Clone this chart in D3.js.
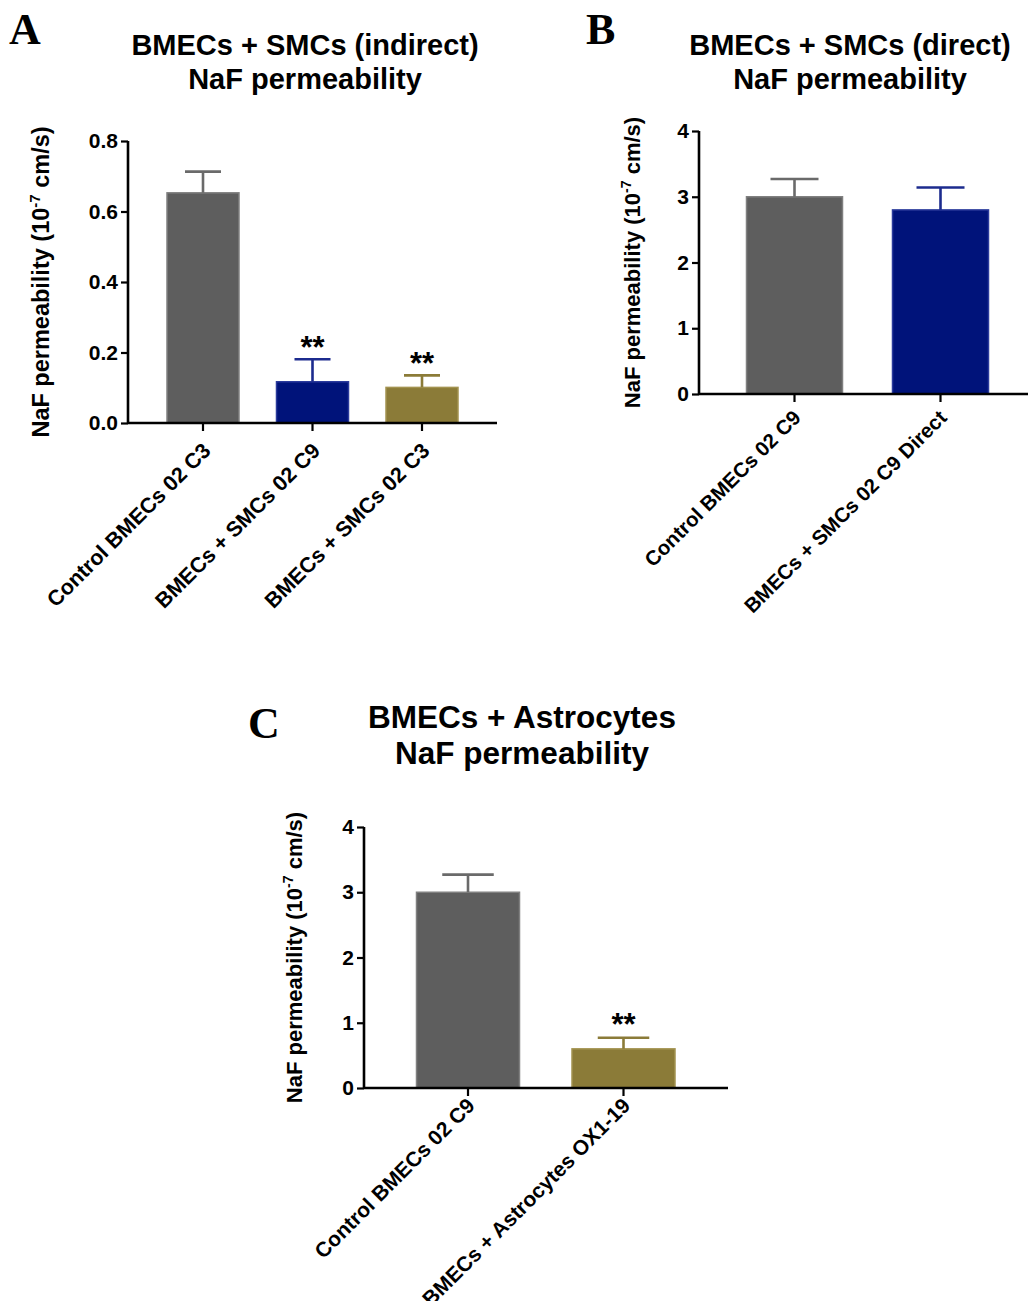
<!DOCTYPE html>
<html>
<head>
<meta charset="utf-8">
<script src="https://cdn.jsdelivr.net/npm/d3@7"></script>
<style>
  html, body { margin: 0; padding: 0; background: #ffffff; }
  svg { display: block; }
  text { font-family: "Liberation Sans", Arial, Helvetica, sans-serif; font-weight: bold; fill: #000; }
  .panel-letter { font-family: "Liberation Serif", "Times New Roman", serif; font-weight: bold; }
</style>
</head>
<body>
<svg id="fig" width="1028" height="1301"></svg>
<script>
// Panel A: BMECs + SMCs (indirect co-culture)
const catsA = ["Control BMECs 02 C3", "BMECs + SMCs 02 C9", "BMECs + SMCs 02 C3"];
const meansA = [0.653, 0.117, 0.101];
const semA = [0.060, 0.064, 0.034];
const sigA = ["", "**", "**"];
const ticksA = [0, 0.2, 0.4, 0.6, 0.8];

// Panel B: BMECs + SMCs (direct co-culture)
const catsB = ["Control BMECs 02 C9", "BMECs + SMCs 02 C9 Direct"];
const meansB = [3.0, 2.8];
const semB = [0.27, 0.34];
const sigB = ["", ""];
const ticksB = [0, 1, 2, 3, 4];

// Panel C: BMECs + Astrocytes
const catsC = ["Control BMECs 02 C9", "BMECs + Astrocytes OX1-19"];
const meansC = [3.0, 0.6];
const semC = [0.27, 0.17];
const sigC = ["", "**"];
const ticksC = [0, 1, 2, 3, 4];

const svg = d3.select("#fig");

const palette = {
  gray: { fill: "#5e5e5e", edge: "#808080", err: "#6a6a6a" },
  blue: { fill: "#00137a", edge: "#2b3b9c", err: "#1c2b8e" },
  gold: { fill: "#8b7b38", edge: "#a39350", err: "#8b7b38" }
};

function drawPanel(cfg) {
  const g = svg.append("g");
  const n = cfg.cats.length;
  const step = (cfg.lastCenter - cfg.firstCenter) / (n - 1);
  const pi = 1 - cfg.barWidth / step;

  const x = d3.scaleBand()
    .domain(cfg.cats)
    .range([cfg.firstCenter - step / 2, cfg.lastCenter + step / 2])
    .paddingInner(pi)
    .paddingOuter(pi / 2);

  const y = d3.scaleLinear()
    .domain([cfg.ticks[0], cfg.ticks[cfg.ticks.length - 1]])
    .range([cfg.y0, cfg.y1]);

  const rows = cfg.cats.map((c, i) => ({
    cat: c, mean: cfg.means[i], sem: cfg.sems[i], sig: cfg.sigs[i], col: palette[cfg.colors[i]]
  }));

  // bars
  g.selectAll("rect.bar").data(rows).join("rect")
    .attr("class", "bar")
    .attr("x", d => x(d.cat))
    .attr("width", x.bandwidth())
    .attr("y", d => y(d.mean))
    .attr("height", d => y(0) - y(d.mean))
    .attr("fill", d => d.col.fill)
    .attr("stroke", d => d.col.edge)
    .attr("stroke-width", 1.5);

  // upper error bars
  const eb = g.selectAll("g.err").data(rows).join("g").attr("class", "err")
    .attr("stroke", d => d.col.err)
    .attr("stroke-width", 2.6)
    .attr("fill", "none");
  eb.append("line")
    .attr("x1", d => x(d.cat) + x.bandwidth() / 2)
    .attr("x2", d => x(d.cat) + x.bandwidth() / 2)
    .attr("y1", d => y(d.mean))
    .attr("y2", d => y(d.mean + d.sem));
  eb.append("line")
    .attr("x1", d => x(d.cat) + x.bandwidth() / 4)
    .attr("x2", d => x(d.cat) + x.bandwidth() * 3 / 4)
    .attr("y1", d => y(d.mean + d.sem))
    .attr("y2", d => y(d.mean + d.sem));

  // significance stars
  g.selectAll("text.sig").data(rows.filter(d => d.sig)).join("text")
    .attr("class", "sig")
    .attr("x", d => x(d.cat) + x.bandwidth() / 2)
    .attr("y", d => y(d.mean + d.sem) + cfg.sigDy)
    .attr("text-anchor", "middle")
    .style("font-size", "31px")
    .text(d => d.sig);

  // y axis
  const yAxis = g.append("g")
    .attr("transform", `translate(${cfg.axisX},0)`)
    .call(d3.axisLeft(y).tickValues(cfg.ticks).tickFormat(cfg.fmt).tickSize(7).tickPadding(3));
  yAxis.select(".domain").attr("stroke", "#000").attr("stroke-width", 2.6)
    .attr("d", `M0,${cfg.y1}V${cfg.y0}`);
  yAxis.selectAll(".tick line").attr("stroke", "#000").attr("stroke-width", 2.2);
  yAxis.selectAll(".tick text")
    .style("font-size", "21px").style("font-family", "Liberation Sans, Arial, sans-serif")
    .style("font-weight", "bold").attr("fill", "#000");

  // x axis
  const xAxis = g.append("g")
    .attr("transform", `translate(0,${cfg.y0})`)
    .call(d3.axisBottom(x).tickSize(8).tickFormat(""));
  xAxis.select(".domain").attr("stroke", "#000").attr("stroke-width", 2.6)
    .attr("d", `M${cfg.axisX},0H${cfg.xEnd}`);
  xAxis.selectAll(".tick line").attr("stroke", "#000").attr("stroke-width", 2.2);

  // rotated category labels
  g.selectAll("text.cat").data(rows).join("text")
    .attr("class", "cat")
    .attr("text-anchor", "end")
    .attr("transform", d => `translate(${x(d.cat) + x.bandwidth() / 2 + cfg.labDx},${cfg.y0 + cfg.labDy}) rotate(-45)`)
    .style("font-size", cfg.catSize + "px")
    .text(d => d.cat);

  // y axis title
  const yt = g.append("text")
    .attr("text-anchor", "middle")
    .attr("transform", `translate(${cfg.ylabX},${(cfg.y0 + cfg.y1) / 2}) rotate(-90)`)
    .style("font-size", cfg.ylabSize + "px");
  yt.append("tspan").text("NaF permeability (10");
  yt.append("tspan").attr("dy", -9).style("font-size", (cfg.ylabSize * 0.64) + "px").text("-7");
  yt.append("tspan").attr("dy", 9).text(" cm/s)");

  // title
  const tt = g.append("text").attr("text-anchor", "middle").style("font-size", cfg.titleSize + "px");
  tt.append("tspan").attr("x", cfg.titleX).attr("y", cfg.titleY).text(cfg.title[0]);
  tt.append("tspan").attr("x", cfg.titleX).attr("y", cfg.titleY + cfg.titleGap).text(cfg.title[1]);

  // panel letter
  g.append("text").attr("class", "panel-letter")
    .attr("x", cfg.letterX).attr("y", cfg.letterY)
    .style("font-size", "44px")
    .text(cfg.letter);
}

drawPanel({
  letter: "A", letterX: 9, letterY: 44,
  title: ["BMECs + SMCs (indirect)", "NaF permeability"], titleX: 305, titleY: 55, titleSize: 29, titleGap: 34,
  cats: catsA, means: meansA, sems: semA, sigs: sigA, ticks: ticksA,
  colors: ["gray", "blue", "gold"],
  fmt: d3.format(".1f"),
  axisX: 128, xEnd: 497, y0: 423, y1: 141,
  firstCenter: 203, lastCenter: 422, barWidth: 72,
  ylabX: 49, ylabSize: 23.5,
  catSize: 21.5, labDx: 9, labDy: 29, sigDy: -1
});

drawPanel({
  letter: "B", letterX: 586, letterY: 44,
  title: ["BMECs + SMCs (direct)", "NaF permeability"], titleX: 850, titleY: 55, titleSize: 29, titleGap: 34,
  cats: catsB, means: meansB, sems: semB, sigs: sigB, ticks: ticksB,
  colors: ["gray", "blue"],
  fmt: d3.format("d"),
  axisX: 699, xEnd: 1030, y0: 394, y1: 131,
  firstCenter: 794.5, lastCenter: 940.5, barWidth: 96,
  ylabX: 640, ylabSize: 22,
  catSize: 20.5, labDx: 7.5, labDy: 25, sigDy: -1
});

drawPanel({
  letter: "C", letterX: 248, letterY: 738,
  title: ["BMECs + Astrocytes", "NaF permeability"], titleX: 522, titleY: 728, titleSize: 31.5, titleGap: 36,
  cats: catsC, means: meansC, sems: semC, sigs: sigC, ticks: ticksC,
  colors: ["gray", "gold"],
  fmt: d3.format("d"),
  axisX: 364, xEnd: 728, y0: 1088, y1: 827,
  firstCenter: 468, lastCenter: 623.5, barWidth: 103,
  ylabX: 302, ylabSize: 22,
  catSize: 21, labDx: 8, labDy: 19, sigDy: -3
});
</script>
</body>
</html>
